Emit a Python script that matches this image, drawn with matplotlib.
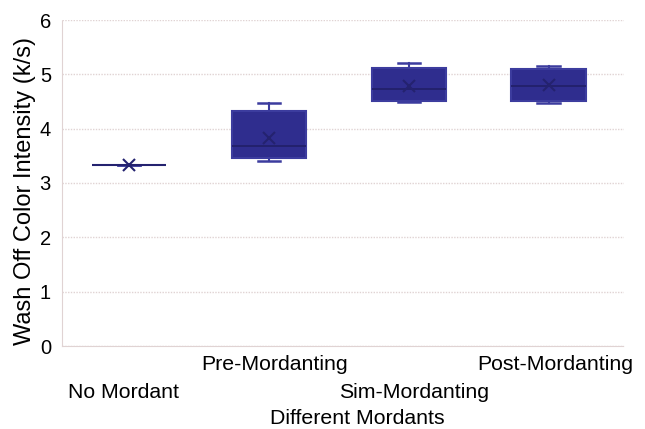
import matplotlib
matplotlib.use("Agg")
import matplotlib.pyplot as plt
from matplotlib.transforms import blended_transform_factory

plt.rcParams['font.family'] = ['Liberation Sans', 'DejaVu Sans']

categories = ["No Mordant", "Pre-Mordanting", "Sim-Mordanting", "Post-Mordanting"]
whislo = [3.33, 3.41, 4.49, 4.47]
q1 = [3.33, 3.46, 4.51, 4.51]
med = [3.33, 3.69, 4.73, 4.78]
q3 = [3.33, 4.32, 5.11, 5.09]
whishi = [3.33, 4.48, 5.21, 5.16]
means = [3.33, 3.82, 4.79, 4.81]
yticks = [0, 1, 2, 3, 4, 5, 6]

fig = plt.figure(figsize=(6.45, 4.29), dpi=100)
ax = fig.add_axes([62/645, 1 - 346/429, (624-62)/645, (346-20)/429])

stats = []
for i, name in enumerate(categories):
    stats.append(dict(label=name, whislo=whislo[i], q1=q1[i], med=med[i],
                      q3=q3[i], whishi=whishi[i], mean=means[i]))

fill = '#2f2d8e'
edge = '#3c3c9e'
ax.bxp(stats, positions=[1, 2, 3, 4], widths=0.53, capwidths=0.16,
       patch_artist=True, showmeans=True, showfliers=False,
       boxprops=dict(facecolor=fill, edgecolor=edge, linewidth=1.5),
       medianprops=dict(color='#22206a', linewidth=1.3),
       whiskerprops=dict(color=edge, linewidth=1.5),
       capprops=dict(color=edge, linewidth=1.8),
       meanprops=dict(marker='x', markeredgecolor='#24226f', markersize=8,
                      markeredgewidth=1.5, linestyle='none'),
       zorder=3)

ax.set_xlim(0.52, 4.54)
ax.set_ylim(0, 6)
ax.set_yticks(yticks)
ax.set_yticklabels([str(t) for t in yticks], fontsize=14.5)
ax.yaxis.grid(True, color='#e0d3d3', linestyle=(0, (1, 1)), linewidth=1.0, zorder=0)
ax.set_axisbelow(True)
for s in ['top', 'right']:
    ax.spines[s].set_visible(False)
for s in ['left', 'bottom']:
    ax.spines[s].set_color('#e0d3d3')
    ax.spines[s].set_linestyle((0, (1, 1)))
ax.tick_params(axis='both', length=0, pad=8)
ax.set_xticks([1, 2, 3, 4])
ax.set_xticklabels([])

trans = blended_transform_factory(ax.transData, fig.transFigure)
label_offsets = [-0.04, 0.04, 0.04, 0.05]
rows = [393, 364, 393, 364]
for i, name in enumerate(categories):
    ax.text(i + 1 + label_offsets[i], 1 - rows[i]/429, name, transform=trans,
            ha='center', va='center', fontsize=15.3)

fig.text(25/645, 1 - 191/429, "Wash Off Color Intensity (k/s)", rotation=90,
         ha='center', va='center', fontsize=17)
fig.text(357/645, 1 - 418/429, "Different Mordants", ha='center', va='center', fontsize=15.3)

fig.savefig("out.png", dpi=100, facecolor='white')
